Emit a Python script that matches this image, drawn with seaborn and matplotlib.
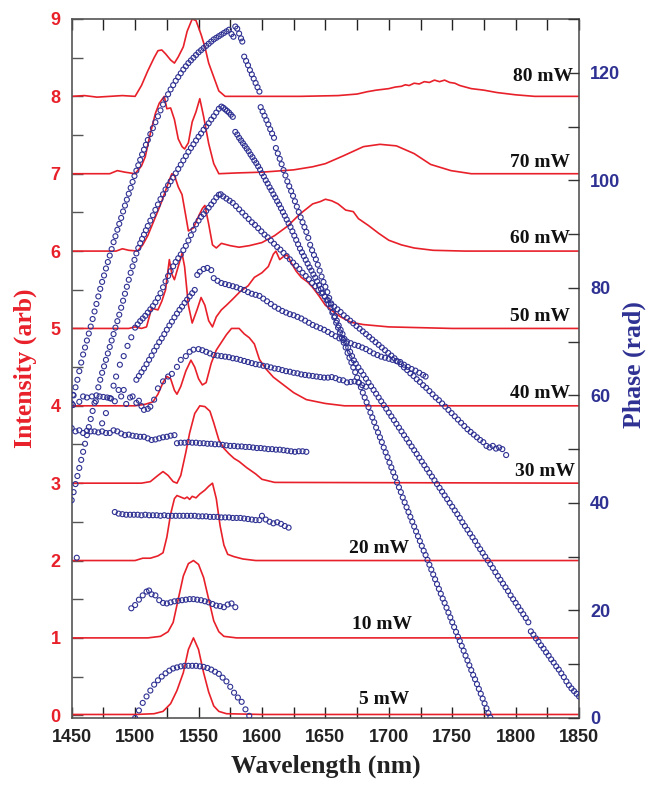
import numpy as np
import pandas as pd
import matplotlib
matplotlib.use("Agg")
import matplotlib.pyplot as plt
import seaborn as sns
from matplotlib.ticker import MultipleLocator

RED = '#E8202A'
BLUE = '#2E3192'

powers = ['5 mW', '10 mW', '20 mW', '30 mW', '40 mW', '50 mW', '60 mW', '70 mW', '80 mW']
baselines = [0, 1, 2, 3, 4, 5, 6, 7, 8]

# normalised intensity spectra (offset by baseline when drawn)
s5_wl = [1450, 1500, 1515, 1522, 1528, 1533, 1538, 1542, 1546, 1550, 1554, 1558, 1562, 1566, 1572, 1600, 1850]
s5_i = [0.01, 0.01, 0.02, 0.05, 0.15, 0.32, 0.55, 0.85, 1.0, 0.85, 0.55, 0.30, 0.12, 0.05, 0.02, 0.01, 0.01]

s10_wl = [1450, 1510, 1520, 1526, 1530, 1534, 1538, 1542, 1546, 1550, 1554, 1558, 1562, 1566, 1570, 1580, 1850]
s10_i = [0, 0, 0.02, 0.08, 0.2, 0.5, 0.8, 0.96, 1.0, 0.95, 0.78, 0.5, 0.22, 0.08, 0.02, 0, 0]

s20_wl = [1450, 1500, 1506, 1512, 1518, 1522, 1525, 1528, 1531, 1533, 1536, 1539, 1541, 1543, 1545, 1548,
          1551, 1555, 1558, 1561, 1564, 1567, 1570, 1573, 1578, 1585, 1595, 1850]
s20_i = [0, 0, 0.03, 0.03, 0.06, 0.1, 0.3, 0.6, 0.8, 0.84, 0.82, 0.8, 0.82, 0.79, 0.83, 0.81,
         0.86, 0.91, 0.96, 1.0, 0.8, 0.45, 0.2, 0.08, 0.05, 0.02, 0, 0]

s30_wl = [1450, 1505, 1512, 1518, 1522, 1526, 1530, 1533, 1536, 1540, 1543, 1547, 1551, 1555, 1559, 1562,
          1566, 1570, 1574, 1578, 1582, 1588, 1595, 1600, 1610, 1850]
s30_i = [0, 0, 0.02, 0.1, 0.15, 0.1, 0.02, 0.0, 0.1, 0.4, 0.65, 0.9, 1.0, 0.99, 0.93, 0.78,
         0.56, 0.45, 0.38, 0.32, 0.28, 0.2, 0.12, 0.05, 0.01, 0]

s40_wl = [1450, 1500, 1508, 1514, 1518, 1522, 1525, 1528, 1531, 1533, 1536, 1540, 1544, 1547, 1550, 1553,
          1556, 1560, 1564, 1568, 1572, 1576, 1582, 1586, 1590, 1594, 1598, 1603, 1609, 1617, 1625, 1635,
          1650, 1665, 1850]
s40_i = [0, 0, 0.02, 0.05, 0.15, 0.3, 0.38, 0.35, 0.2, 0.15, 0.25, 0.45, 0.59, 0.5, 0.35, 0.27,
         0.3, 0.55, 0.72, 0.82, 0.92, 1.0, 1.0, 0.93, 0.88, 0.8, 0.6, 0.48, 0.37, 0.27, 0.17, 0.08,
         0.03, 0.0, 0]

s50_wl = [1450, 1495, 1500, 1505, 1509, 1513, 1518, 1521, 1524, 1527, 1529, 1531, 1534, 1537, 1539, 1542,
          1545, 1549, 1552, 1555, 1558, 1561, 1564, 1568, 1572, 1577, 1583, 1589, 1594, 1600, 1605, 1609,
          1611, 1614, 1617, 1620, 1623, 1627, 1631, 1636, 1640, 1645, 1650, 1656, 1662, 1670, 1680, 1700,
          1750, 1850]
s50_i = [0, 0, 0.02, 0.0, 0.02, 0.26, 0.24, 0.35, 0.5, 0.89, 0.7, 0.63, 0.8, 0.97, 0.8, 0.3,
         0.07, 0.25, 0.4, 0.3, 0.1, 0.02, 0.15, 0.24, 0.3, 0.38, 0.48, 0.55, 0.66, 0.72, 0.8, 0.96,
         1.0, 0.89, 0.93, 0.95, 0.85, 0.74, 0.66, 0.6, 0.53, 0.42, 0.3, 0.22, 0.15, 0.08, 0.05, 0.02,
         0.0, 0]

s60_wl = [1450, 1485, 1490, 1495, 1502, 1506, 1510, 1516, 1520, 1524, 1527, 1529, 1531, 1534, 1537, 1540,
          1542, 1546, 1550, 1553, 1555, 1558, 1561, 1564, 1568, 1575, 1582, 1590, 1600, 1610, 1620, 1630,
          1640, 1646, 1650, 1655, 1660, 1666, 1672, 1676, 1684, 1692, 1700, 1710, 1720, 1735, 1760, 1850]
s60_i = [0, 0, 0.03, 0.01, 0, 0.08, 0.2, 0.44, 0.6, 0.78, 0.92, 1.0, 0.98, 0.83, 0.73, 0.45,
         0.26, 0.3, 0.45, 0.55, 0.59, 0.35, 0.08, 0.04, 0.1, 0.07, 0.05, 0.07, 0.11, 0.2, 0.32, 0.48,
         0.61, 0.64, 0.67, 0.65, 0.61, 0.53, 0.51, 0.42, 0.33, 0.23, 0.14, 0.08, 0.04, 0.01, 0, 0]

s70_wl = [1450, 1480, 1486, 1492, 1500, 1505, 1508, 1512, 1516, 1519, 1523, 1525, 1528, 1531, 1534, 1537,
          1539, 1542, 1545, 1548, 1551, 1554, 1558, 1562, 1566, 1580, 1600, 1625, 1640, 1650, 1664, 1680,
          1693, 1706, 1720, 1733, 1749, 1765, 1850]
s70_i = [0, 0, 0.04, 0.02, 0, 0.1, 0.22, 0.52, 0.78, 0.91, 1.0, 0.84, 0.85, 0.7, 0.45, 0.35,
         0.32, 0.4, 0.67, 0.8, 0.97, 0.74, 0.39, 0.13, 0.0, 0.01, 0.02, 0.05, 0.09, 0.13, 0.23, 0.35,
         0.38, 0.36, 0.26, 0.12, 0.04, 0.0, 0]

s80_wl = [1450, 1460, 1470, 1490, 1500, 1505, 1510, 1515, 1518, 1521, 1524, 1528, 1531, 1534, 1538, 1541,
          1545, 1548, 1552, 1555, 1558, 1562, 1566, 1571, 1600, 1630, 1660, 1675, 1683, 1690, 1700, 1705,
          1710, 1713, 1716, 1720, 1724, 1728, 1732, 1736, 1740, 1744, 1748, 1752, 1756, 1765, 1775, 1785,
          1800, 1815, 1850]
s80_i = [0, 0.01, -0.01, 0.01, 0, 0.14, 0.33, 0.5, 0.59, 0.6, 0.55, 0.47, 0.43, 0.51, 0.64, 0.84,
         1.0, 0.98, 0.8, 0.64, 0.43, 0.25, 0.07, 0.0, 0.0, 0.0, 0.01, 0.03, 0.06, 0.08, 0.1, 0.12,
         0.13, 0.15, 0.14, 0.17, 0.16, 0.19, 0.18, 0.21, 0.19, 0.21, 0.18, 0.17, 0.14, 0.1, 0.08, 0.05,
         0.02, 0.0, 0]

spec_wl = [s5_wl, s10_wl, s20_wl, s30_wl, s40_wl, s50_wl, s60_wl, s70_wl, s80_wl]
spec_i = [s5_i, s10_i, s20_i, s30_i, s40_i, s50_i, s60_i, s70_i, s80_i]

# spectral phase (rad)
p5_wl = [1500, 1503, 1506, 1509, 1512, 1515, 1518, 1521, 1524, 1527, 1530, 1533, 1536, 1539, 1542, 1545,
         1548, 1551, 1554, 1557, 1560, 1563, 1566, 1569, 1572, 1575, 1578, 1581, 1584, 1587, 1590]
p5 = [0.0, 1.4, 2.8, 4.0, 5.1, 6.2, 7.0, 7.7, 8.3, 8.8, 9.2, 9.4, 9.6, 9.7, 9.7, 9.7,
      9.7, 9.6, 9.5, 9.3, 9.0, 8.6, 8.2, 7.5, 6.8, 5.8, 4.7, 3.8, 3.0, 1.6, 0.4]

p10_wl = [1497, 1500, 1503, 1506, 1509, 1511, 1513, 1516, 1519, 1522, 1525, 1528, 1531, 1534, 1537,
          1540, 1543, 1546, 1549, 1552, 1555, 1558, 1561, 1564, 1567, 1570, 1573, 1576, 1579]
p10 = [20.4, 21.0, 22.0, 22.8, 23.5, 23.7, 23.0, 22.8, 21.9, 21.4, 21.3, 21.5, 21.7, 21.8, 21.9,
       22.0, 22.1, 22.1, 22.0, 21.9, 21.7, 21.5, 21.2, 20.9, 20.8, 20.6, 21.1, 21.3, 20.6]

p20_wl = [1454, 1484, 1487, 1490, 1493, 1496, 1499, 1502, 1505, 1508, 1511, 1514, 1517, 1520, 1523, 1526,
          1529, 1532, 1535, 1538, 1541, 1544, 1547, 1550, 1553, 1556, 1559, 1562, 1565, 1568, 1571,
          1574, 1577, 1580, 1583, 1586, 1589, 1592, 1595, 1598, 1600, 1603, 1606, 1609, 1612, 1615,
          1618, 1621]
p20 = [29.8, 38.3, 38.0, 37.9, 37.8, 37.8, 37.8, 37.8, 37.7, 37.8, 37.7, 37.7, 37.7, 37.6, 37.7, 37.6,
       37.6, 37.6, 37.6, 37.6, 37.6, 37.6, 37.6, 37.5, 37.5, 37.5, 37.4, 37.4, 37.4, 37.3, 37.3,
       37.3, 37.2, 37.2, 37.2, 37.1, 37.0, 36.9, 36.8, 36.8, 37.6, 36.9, 36.5, 36.2, 36.4, 36.1,
       35.7, 35.4]

p30_wl = [1450, 1453, 1456, 1459, 1462, 1465, 1468, 1471, 1474, 1477, 1480, 1483, 1486, 1489, 1492,
          1495, 1498, 1501, 1504, 1507, 1510, 1513, 1516, 1519, 1522, 1525, 1528, 1531,
          1533, 1536, 1539, 1542, 1545, 1548, 1551, 1554, 1557, 1560, 1563, 1566, 1569, 1572, 1575,
          1578, 1581, 1584, 1587, 1590, 1593, 1596, 1599, 1602, 1605, 1608, 1611, 1614, 1617, 1620,
          1623, 1626, 1629, 1632, 1635]
p30 = [53.9, 53.3, 53.5, 53.0, 53.4, 53.3, 53.3, 53.1, 53.3, 53.0, 53.0, 53.5, 53.3, 52.9, 52.6,
       52.7, 52.5, 52.4, 52.3, 52.3, 52.0, 51.7, 51.8, 52.0, 52.2, 52.3, 52.5, 52.6,
       51.1, 51.2, 51.2, 51.3, 51.2, 51.2, 51.1, 51.1, 51.0, 51.0, 50.9, 50.9, 50.8, 50.7, 50.6,
       50.6, 50.5, 50.5, 50.4, 50.4, 50.3, 50.2, 50.2, 50.1, 50.0, 50.0, 49.9, 49.9, 49.8, 49.7,
       49.6, 49.5, 49.6, 49.6, 49.5]

p40_wl = [1451, 1451, 1456, 1459, 1462, 1466, 1469, 1472, 1475, 1478, 1481, 1484, 1487, 1489, 1491, 1493,
          1496, 1498, 1501, 1503, 1505, 1507, 1510, 1512, 1515, 1518, 1522, 1526, 1529, 1533, 1536, 1540,
          1543, 1546, 1550, 1553, 1556, 1559, 1562, 1565, 1568, 1571, 1574, 1577, 1580, 1583, 1586, 1589,
          1592, 1595, 1598, 1601, 1604, 1607, 1610, 1613, 1616, 1619, 1622, 1625, 1628, 1631, 1634, 1637,
          1640, 1643, 1646, 1649, 1652, 1655, 1658, 1661, 1664, 1667, 1670, 1673, 1676, 1679, 1682]
p40 = [60.1, 58.2, 58.8, 59.8, 59.6, 59.8, 58.9, 59.8, 59.7, 59.6, 59.4, 58.9, 61.0, 59.8, 61.0, 58.4,
       59.6, 59.8, 58.6, 59.0, 58.0, 57.3, 57.5, 57.9, 59.2, 61.3, 62.6, 63.5, 64.0, 65.3, 66.6, 67.3,
       68.1, 68.5, 68.6, 68.4, 68.1, 67.8, 67.5, 67.4, 67.3, 67.2, 67.1, 66.9, 66.8, 66.6, 66.4, 66.2,
       66.0, 65.8, 65.7, 65.5, 65.4, 65.2, 65.0, 64.9, 64.7, 64.5, 64.4, 64.2, 64.1, 63.9, 63.8, 63.7,
       63.6, 63.5, 63.4, 63.3, 63.3, 63.4, 63.2, 62.9, 62.8, 62.4, 62.5, 62.6, 62.4, 61.9, 61.6]

p50_wl = [1501, 1503, 1505, 1507, 1509, 1511, 1513, 1515, 1517, 1519, 1521, 1523, 1525, 1527, 1529, 1531,
          1533, 1535, 1537, 1539, 1541, 1543, 1545, 1547, 1549, 1551, 1554, 1557, 1560,
          1562, 1565, 1568, 1571, 1574, 1577, 1580, 1583, 1586, 1589, 1592, 1595, 1598, 1601, 1604,
          1607, 1610, 1613, 1616, 1619, 1622, 1625, 1628, 1631, 1634, 1637, 1640, 1643, 1646, 1649,
          1652, 1655, 1658, 1661, 1664, 1667, 1670, 1673, 1676, 1679, 1682, 1685, 1688, 1691, 1694,
          1697, 1700, 1703, 1706, 1709, 1712, 1715, 1718, 1721, 1724, 1727, 1729]
p50 = [62.9, 63.6, 64.3, 65.0, 65.8, 66.6, 67.4, 68.3, 69.1, 69.9, 70.6, 71.4, 72.2, 73.0, 73.7, 74.5,
       75.2, 75.9, 76.5, 77.2, 77.8, 78.4, 79.0, 79.6, 82.4, 83.0, 83.5, 83.7, 83.3,
       81.8, 81.3, 80.9, 80.7, 80.5, 80.3, 80.1, 79.8, 79.6, 79.2, 78.9, 78.7, 78.5, 78.0, 77.5,
       77.0, 76.5, 76.1, 75.7, 75.4, 75.1, 74.9, 74.6, 74.3, 73.9, 73.5, 73.1, 72.8, 72.5, 72.2,
       71.8, 71.4, 71.0, 70.6, 70.3, 70.0, 69.7, 69.4, 69.2, 68.9, 68.6, 68.2, 67.8, 67.5, 67.2,
       67.0, 66.8, 66.6, 66.4, 66.2, 65.7, 65.3, 64.9, 64.6, 64.2, 63.8, 63.5]

p60_wl = [1474, 1477, 1480, 1483, 1485, 1488, 1491, 1494, 1497, 1500, 1502, 1504, 1506, 1508, 1510, 1512,
          1514, 1516, 1518, 1520, 1522, 1524, 1526, 1528, 1530, 1532, 1534, 1536, 1538, 1540, 1542, 1544,
          1546, 1548, 1550, 1552, 1554, 1556, 1558, 1560, 1562, 1564, 1566, 1567.5,
          1569.5, 1572, 1574.5, 1577, 1579.5, 1582, 1584.5, 1587, 1589.5, 1592, 1594.5, 1597, 1599.5,
          1602, 1604.5, 1607, 1609.5, 1612, 1614.5, 1617, 1619.5, 1622, 1624.5, 1627, 1629.5, 1632,
          1634.5, 1637, 1639.5, 1642, 1644.5, 1647, 1649.5, 1652, 1654.5, 1657, 1659.5, 1662, 1664.5,
          1667, 1669.5, 1672, 1674.5, 1677, 1679.5, 1682, 1684.5, 1687, 1689.5, 1692, 1694.5, 1697,
          1699.5, 1702, 1704.5, 1707, 1709.5, 1712, 1714.5, 1717, 1719.5, 1722, 1724.5, 1727, 1729.5,
          1732, 1734.5, 1737, 1739.5, 1742, 1744.5, 1747, 1749.5, 1752, 1754.5, 1757, 1759.5, 1762,
          1764.5, 1767, 1769.5, 1772, 1774.5, 1777, 1779.5, 1782, 1784.5, 1787, 1789.5, 1792.5]
p60 = [54.8, 56.7, 59.5, 61.8, 63.5, 65.7, 67.3, 69.2, 70.8, 72.6, 73.2, 73.8, 74.3, 74.8, 75.4, 76.0,
       76.6, 77.3, 78.1, 79.0, 80.1, 81.2, 82.2, 83.1, 84.0, 84.8, 85.5, 86.2, 87.0, 87.8, 88.8, 89.8,
       90.8, 91.8, 92.5, 93.2, 93.7, 94.3, 94.9, 95.5, 96.1, 96.8, 97.3, 97.4,
       97.0, 96.6, 96.2, 95.8, 95.2, 94.6, 94.0, 93.4, 92.8, 92.2, 91.7, 91.1, 90.5,
       89.9, 89.4, 88.8, 88.2, 87.6, 87.1, 86.5, 85.9, 85.3, 84.7, 84.1, 83.5, 82.8,
       82.2, 81.6, 80.9, 80.3, 79.6, 79.0, 78.4, 77.7, 77.1, 76.5, 76.0, 75.5, 74.9,
       74.4, 73.9, 73.4, 72.9, 72.4, 71.9, 71.4, 70.9, 70.4, 69.9, 69.4, 68.9, 68.4,
       67.9, 67.4, 66.9, 66.3, 65.8, 65.2, 64.7, 64.1, 63.6, 63.0, 62.5, 61.9, 61.4,
       60.8, 60.2, 59.6, 59.1, 58.5, 57.9, 57.3, 56.7, 56.1, 55.5, 54.9, 54.3, 53.7,
       53.2, 52.7, 52.2, 51.7, 51.3, 50.6, 50.3, 50.6, 50.1, 50.3, 50.0, 48.9]

p70_wl = [1450, 1451.5, 1453, 1454.5, 1456, 1457.5, 1459, 1460.5, 1462, 1463.5, 1465, 1466.5, 1468, 1469.5,
          1471, 1472.5, 1474, 1475.5, 1477, 1478.5, 1480, 1481.5, 1483, 1484.5, 1486, 1487.5, 1489, 1490.5,
          1492, 1493.5, 1495, 1496.5, 1498, 1499.5, 1501, 1502.5, 1504, 1505.5, 1507, 1508.5, 1510,
          1512, 1514, 1516, 1518, 1520, 1522, 1524, 1526, 1528, 1530, 1532, 1534, 1536, 1538, 1540,
          1542, 1544, 1546, 1548, 1550, 1552, 1554, 1556, 1558, 1560, 1562, 1564, 1566, 1568,
          1569.5, 1571, 1572.5, 1574, 1575.5, 1577,
          1579, 1580.5, 1582, 1583.5, 1585, 1586.5, 1588, 1589.5, 1591, 1592.5, 1594, 1595.5, 1597,
          1598.5, 1600, 1601.5, 1603, 1604.5, 1606, 1607.5, 1609, 1610.5, 1612, 1613.5, 1615, 1616.5,
          1618, 1619.5, 1621, 1622.5, 1624, 1625.5, 1627, 1628.5, 1630, 1631.5, 1633, 1634.5, 1636,
          1637.5, 1639, 1640.5, 1642, 1643.5, 1645, 1646.5, 1648, 1649.5, 1651, 1652.5, 1654, 1655.5,
          1657, 1658.5, 1660, 1661.5, 1663, 1664.5, 1666, 1667.5, 1669, 1670.5, 1672, 1673.5, 1675,
          1676.5, 1678, 1679.5, 1681, 1682.5, 1684, 1685.5, 1687, 1688.5, 1690, 1691.5, 1693, 1694.5,
          1696, 1697.5, 1699, 1700.5, 1702, 1703.5, 1705, 1706.5, 1708, 1709.5, 1711, 1712.5, 1714,
          1715.5, 1717, 1718.5, 1720, 1721.5, 1723, 1724.5, 1726, 1727.5, 1729, 1730.5, 1732, 1733.5,
          1735, 1736.5, 1738, 1739.5, 1741, 1742.5, 1744, 1745.5, 1747, 1748.5, 1750, 1751.5, 1753,
          1754.5, 1756, 1757.5, 1759, 1760.5, 1762, 1763.5, 1765, 1766.5, 1768, 1769.5, 1771, 1772.5,
          1774, 1775.5, 1777, 1778.5, 1780]
p70 = [40.5, 42.0, 43.5, 45.0, 46.5, 48.0, 49.5, 51.0, 52.6, 54.1, 55.6, 57.1, 58.6, 60.0,
       61.5, 62.9, 64.2, 65.4, 66.6, 67.8, 69.0, 70.2, 71.4, 72.6, 73.8, 75.0, 76.3, 77.6,
       78.9, 80.2, 81.5, 82.8, 84.0, 85.2, 86.4, 87.4, 88.3, 89.1, 89.9, 90.7, 91.5,
       92.5, 93.5, 94.5, 95.5, 96.5, 97.4, 98.3, 99.1, 99.8, 100.5, 101.3, 102.1, 102.9, 103.7, 104.5,
       105.3, 106.0, 106.7, 107.4, 108.1, 108.7, 109.4, 110.0, 110.6, 111.3, 111.9, 112.6, 113.3, 113.7,
       113.5, 113.2, 112.9, 112.6, 112.2, 111.8,
       109.0, 108.5, 107.9, 107.4, 106.9, 106.4, 105.9, 105.4, 104.8, 104.3, 103.7, 103.2, 102.6,
       102.0, 101.3, 100.7, 100.0, 99.4, 98.7, 98.1, 97.4, 96.8, 96.1, 95.5, 94.8, 94.1,
       93.4, 92.7, 92.0, 91.3, 90.5, 89.7, 88.9, 88.1, 87.3, 86.6, 85.9, 85.2, 84.5,
       83.8, 83.2, 82.5, 81.9, 81.2, 80.5, 79.8, 79.1, 78.4, 77.7, 77.0, 76.3, 75.4,
       74.5, 73.5, 72.6, 71.7, 70.7, 69.8, 68.9, 67.9, 67.0, 66.1, 65.2, 64.3, 63.3,
       62.4, 61.5, 60.5, 59.6, 58.7, 57.8, 56.8, 55.9, 55.0, 54.0, 53.1, 52.2, 51.3,
       50.3, 49.4, 48.5, 47.5, 46.6, 45.7, 44.8, 43.8, 42.9, 42.0, 41.0, 40.1, 39.2,
       38.3, 37.4, 36.5, 35.6, 34.7, 33.8, 32.9, 32.0, 31.1, 30.3, 29.4, 28.5, 27.6,
       26.7, 25.8, 24.9, 24.0, 23.1, 22.2, 21.4, 20.5, 19.6, 18.7, 17.8, 16.9, 16.0,
       15.1, 14.3, 13.4, 12.5, 11.6, 10.7, 9.8, 8.9, 8.0, 7.2, 6.3, 5.4, 4.5,
       3.6, 2.7, 1.8, 0.9, 0.1]

p80_wl = [1450, 1451.5, 1453, 1454.5, 1456, 1457.5, 1459, 1460.5, 1462, 1463.5, 1465, 1466.5, 1468, 1469.5,
          1471, 1472.5, 1474, 1475.5, 1477, 1478.5, 1480, 1481.5, 1483, 1484.5, 1486, 1487.5, 1489, 1490.5,
          1492, 1493.5, 1495, 1496.5, 1498, 1499.5, 1501, 1502.5, 1504, 1505.5, 1507, 1508.5, 1510,
          1512, 1514, 1516, 1518, 1520, 1522, 1524, 1526, 1528, 1530, 1532, 1534, 1536, 1538, 1540,
          1542, 1544, 1546, 1548, 1550, 1552, 1554, 1556, 1558, 1560, 1562, 1564, 1566, 1568, 1570,
          1572, 1574, 1576, 1577.5, 1579, 1580.5, 1582, 1583.5, 1584.5,
          1586, 1587.5, 1589, 1590.5, 1592, 1593.5, 1595, 1596.5, 1598,
          1599, 1600.5, 1602, 1603.5, 1605, 1606.5, 1608, 1609.5, 1611, 1612.5, 1614, 1615.5, 1617,
          1618.5, 1620, 1621.5, 1623, 1624.5, 1626, 1627.5, 1629, 1630.5, 1632, 1633.5, 1635, 1636.5,
          1638, 1639.5, 1641, 1642.5, 1644, 1645.5, 1647, 1648.5, 1650, 1651.5, 1653, 1654.5, 1656,
          1657.5, 1659, 1660.5, 1662, 1663.5, 1665, 1666.5, 1668, 1669.5, 1671, 1672.5,
          1674, 1676, 1678, 1680, 1682, 1684, 1686, 1688, 1690, 1692, 1694, 1696, 1698, 1700, 1702,
          1704, 1706, 1708, 1710, 1712, 1714, 1716, 1718, 1720, 1722, 1724, 1726, 1728, 1730, 1732,
          1734, 1736, 1738, 1740, 1742, 1744, 1746, 1748, 1750, 1752, 1754, 1756, 1758, 1760, 1762,
          1764, 1766, 1768, 1770, 1772, 1774, 1776, 1778, 1780, 1782, 1784, 1786, 1788, 1790, 1792,
          1794, 1796, 1798, 1800, 1802, 1804, 1806, 1808, 1810,
          1812, 1814, 1816, 1818, 1820, 1822, 1824, 1826, 1828, 1830, 1832, 1834, 1836, 1838, 1840,
          1842, 1844, 1846, 1848, 1850]
p80 = [58.5, 60.0, 61.5, 62.9, 64.5, 66.1, 67.6, 68.9, 70.2, 71.5, 72.8, 74.2, 75.6, 77.0,
       78.4, 79.8, 81.1, 82.3, 83.6, 84.8, 86.0, 87.2, 88.5, 89.6, 90.8, 91.9, 93.0, 94.2,
       95.3, 96.4, 97.5, 98.6, 99.7, 100.8, 101.8, 102.8, 103.8, 104.8, 105.7, 106.6, 107.5,
       108.6, 109.7, 110.8, 111.9, 113.0, 114.1, 115.1, 116.0, 116.9, 117.7, 118.5, 119.2, 119.9, 120.6,
       121.2, 121.8, 122.3, 122.8, 123.3, 123.8, 124.2, 124.6, 125.0, 125.4, 125.8, 126.2, 126.5, 126.8,
       127.1, 127.4, 127.7, 128.0, 127.2, 126.7, 128.6, 128.2, 127.3, 126.4, 125.8,
       123.0, 122.2, 121.4, 120.5, 119.7, 118.9, 118.1, 117.3, 116.5,
       113.6, 112.8, 112.0, 111.2, 110.4, 109.5, 108.7, 107.9, 106.0, 105.0, 104.0, 103.0, 101.9,
       100.9, 99.8, 98.9, 98.0, 97.1, 96.1, 95.1, 94.1, 93.1, 92.2, 91.3, 90.4, 89.3,
       88.0, 87.0, 86.1, 85.3, 84.3, 83.2, 82.1, 81.1, 80.2, 79.2, 78.1, 76.9, 75.6,
       74.7, 73.9, 73.0, 72.2, 71.4, 70.5, 69.7, 68.9, 68.1, 67.3, 66.5,
       65.9, 65.2, 64.5, 63.8, 63.1, 62.4, 61.7, 61.0, 60.3, 59.6, 58.9, 58.2, 57.5, 56.8, 56.1,
       55.4, 54.7, 54.0, 53.3, 52.6, 51.9, 51.2, 50.5, 49.8, 49.1, 48.4, 47.7, 47.0, 46.3, 45.6,
       44.9, 44.2, 43.5, 42.8, 42.1, 41.4, 40.7, 40.0, 39.3, 38.6, 37.9, 37.2, 36.4, 35.7, 35.0,
       34.3, 33.6, 32.9, 32.1, 31.4, 30.7, 30.0, 29.3, 28.6, 27.9, 27.1, 26.4, 25.7, 25.0, 24.3,
       23.6, 22.8, 22.1, 21.4, 20.7, 20.0, 19.3, 18.6, 17.8,
       16.1, 15.5, 14.8, 14.2, 13.5, 12.9, 12.2, 11.6, 10.9, 10.3, 9.6, 9.0, 8.3, 7.6, 6.8,
       6.1, 5.5, 5.0, 4.5, 4.0]

phase_wl = [p5_wl, p10_wl, p20_wl, p30_wl, p40_wl, p50_wl, p60_wl, p70_wl, p80_wl]
phase = [p5, p10, p20, p30, p40, p50, p60, p70, p80]

spec = pd.concat([pd.DataFrame({'wl': w, 'I': np.array(i) + b, 'power': p})
                  for w, i, b, p in zip(spec_wl, spec_i, baselines, powers)])
ph = pd.concat([pd.DataFrame({'wl': w, 'phi': f, 'power': p})
                for w, f, p in zip(phase_wl, phase, powers)])

sns.set_style('ticks')
plt.rcParams['font.family'] = ['Liberation Sans', 'DejaVu Sans']

fig = plt.figure(figsize=(6.47, 7.85), dpi=100)
ax = fig.add_axes([0.1108, 0.0854, 0.7842, 0.8904])
ax2 = ax.twinx()

for p in powers:
    d = spec[spec.power == p]
    sns.lineplot(data=d, x='wl', y='I', ax=ax, color=RED, lw=1.2, sort=False, estimator=None, legend=False)
    d2 = ph[ph.power == p]
    sns.scatterplot(data=d2, x='wl', y='phi', ax=ax2, marker='o', s=13, facecolor='none',
                    edgecolor=BLUE, linewidth=0.8, legend=False, zorder=3)

ax.set_xlim(1450, 1850)
ax.set_ylim(-0.035, 9.0)
ax2.set_ylim(0, 130)

ax.xaxis.set_major_locator(MultipleLocator(50))
ax.xaxis.set_minor_locator(MultipleLocator(25))
ax.yaxis.set_major_locator(MultipleLocator(1))
ax.yaxis.set_minor_locator(MultipleLocator(0.5))
ax2.yaxis.set_major_locator(MultipleLocator(20))
ax2.yaxis.set_minor_locator(MultipleLocator(10))

ax.tick_params(axis='x', which='both', direction='in', top=True, length=8, width=1, pad=8,
               labelsize=13, colors='#222222')
ax.tick_params(axis='y', which='both', direction='in', right=False, length=8, width=1, pad=8,
               labelsize=13, labelcolor=RED, color='#555555')
ax2.tick_params(axis='y', which='both', direction='in', length=8, width=1, pad=8,
                labelsize=13, labelcolor=BLUE, color='#333333')
for lab in ax.get_xticklabels() + ax.get_yticklabels() + ax2.get_yticklabels():
    lab.set_fontweight('bold')
for sp in ax.spines.values():
    sp.set_color('#555555')
    sp.set_linewidth(1.2)
for sp in ax2.spines.values():
    sp.set_visible(False)

serif = ['Liberation Serif', 'DejaVu Serif']
ax.set_xlabel('Wavelength (nm)', family=serif, fontsize=18.5, fontweight='bold', color='#222222', labelpad=6)
ax.set_ylabel('Intensity (arb)', family=serif, fontsize=18.5, fontweight='bold', color=RED, labelpad=10)
ax2.set_xlabel('')
ax2.set_ylabel('')
fig.text(634 / 647, 1 - 365 / 785, 'Phase (rad)', family=serif, fontsize=18.5, fontweight='bold',
         color=BLUE, rotation=90, ha='center', va='center')

label_x = [1716, 1718, 1716, 1847, 1843, 1843, 1843, 1843, 1845]
label_y = [0.1, 1.06, 2.05, 3.04, 4.05, 5.04, 6.05, 7.03, 8.15]
for p, lx, ly in zip(powers, label_x, label_y):
    ax.text(lx, ly, p, family=serif, fontsize=14, fontweight='bold', ha='right', va='bottom',
            color='#111111')

fig.savefig('out.png', dpi=100)
